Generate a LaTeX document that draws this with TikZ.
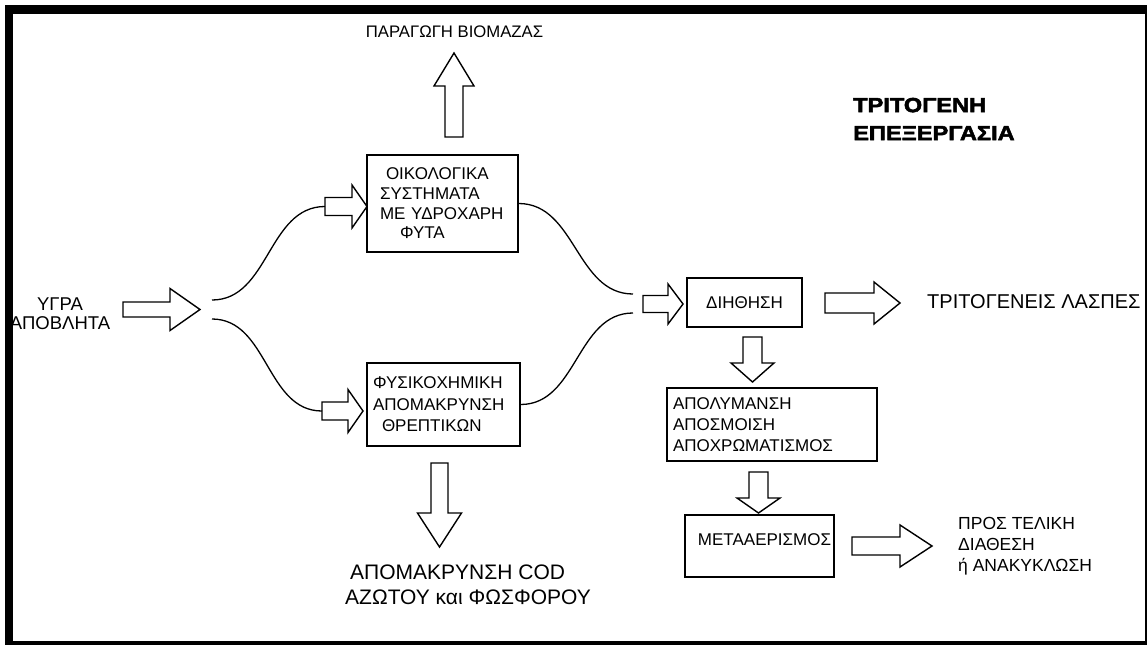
\documentclass[tikz,border=0pt]{standalone}
\usepackage{fontspec}
\setmainfont{Liberation Sans}
\newfontfamily\titlefont[FakeStretch=1.15, FakeBold=2.5]{Liberation Sans Bold}

\tikzset{
  box/.style={draw, line width=1.3pt, inner sep=0pt},
  blockarrow/.style={draw, line width=1.4pt, line join=miter, fill=white},
  flow/.style={line width=1.3pt},
  lbl/.style={inner sep=0pt, font=\fontsize{17}{20}\selectfont},
}

% horizontal hollow arrow: tail x, head x, tip x, y, shaft half, head half
\newcommand{\hblock}[6]{%
  \draw[blockarrow] (#1,#4-#5) -- (#2,#4-#5) -- (#2,#4-#6) -- (#3,#4)
    -- (#2,#4+#6) -- (#2,#4+#5) -- (#1,#4+#5) -- cycle;}
% vertical hollow arrow: x, tail y, head y, tip y, shaft half, head half
\newcommand{\vblock}[6]{%
  \draw[blockarrow] (#1-#5,#2) -- (#1-#5,#3) -- (#1-#6,#3) -- (#1,#4)
    -- (#1+#6,#3) -- (#1+#5,#3) -- (#1+#5,#2) -- cycle;}

\begin{document}
\begin{tikzpicture}[x=1pt, y=-1pt]
    \fill[white] (0,0) rectangle (1148,645);
    \useasboundingbox (0,0) rectangle (1148,645);
    % frame
    \draw[line width=9pt] (5,9.5) -- (1147,9.5);
    \draw[line width=8pt] (9,5) -- (9,645);
    \draw[line width=4pt] (5,642.5) -- (1147,642.5);
    \draw[line width=2pt] (1146,9) -- (1146,643);

    % boxes
    \node[box, minimum width=151pt, minimum height=97pt, text width=133pt, align=left,
          font=\fontsize{17}{19.7}\selectfont] (eco) at (442.5,203.5)
          {\hspace*{10pt}ΟΙΚΟΛΟΓΙΚΑ\\\hspace*{4pt}ΣΥΣΤΗΜΑΤΑ\\\hspace*{4pt}ΜΕ ΥΔΡΟΧΑΡΗ\\\hspace*{24pt}ΦΥΤΑ};
    \node[box, minimum width=153pt, minimum height=83pt, text width=141pt, align=left,
          font=\fontsize{17}{21.5}\selectfont] (phys) at (443.5,404.5)
          {ΦΥΣΙΚΟΧΗΜΙΚΗ\\ΑΠΟΜΑΚΡΥΝΣΗ\\\hspace*{9pt}ΘΡΕΠΤΙΚΩΝ};
    \node[box, minimum width=115pt, minimum height=49pt,
          font=\fontsize{17}{20}\selectfont] (filt) at (744.5,302.5) {ΔΙΗΘΗΣΗ};
    \node[box, minimum width=210pt, minimum height=73pt, text width=198pt, align=left,
          font=\fontsize{17}{21}\selectfont] (disinf) at (772,424.5)
          {ΑΠΟΛΥΜΑΝΣΗ\\ΑΠΟΣΜΟΙΣΗ\\ΑΠΟΧΡΩΜΑΤΙΣΜΟΣ};
    \node[box, minimum width=149pt, minimum height=62pt, text depth=12pt,
          font=\fontsize{17}{20}\selectfont] (post) at (759.5,546)
          {\hspace*{10pt}ΜΕΤΑΑΕΡΙΣΜΟΣ};

    % labels
    \node[lbl, font=\fontsize{16.7}{20}\selectfont] (biomass) at (454.5,32) {ΠΑΡΑΓΩΓΗ ΒΙΟΜΑΖΑΣ};
    \node[lbl, anchor=west, align=left, font=\fontsize{20.5}{28}\titlefont] (title)
          at (853,119) {ΤΡΙΤΟΓΕΝΗ\\ΕΠΕΞΕΡΓΑΣΙΑ};
    \node[lbl, align=center, font=\fontsize{18.5}{19}\selectfont] (waste) at (60,314) {ΥΓΡΑ\\ΑΠΟΒΛΗΤΑ};
    \node[lbl, anchor=west, font=\fontsize{20}{24}\selectfont] (sludge) at (927,302) {ΤΡΙΤΟΓΕΝΕΙΣ ΛΑΣΠΕΣ};
    \node[lbl, anchor=west, align=left, font=\fontsize{21}{25}\selectfont] (removal) at (345,584.5)
          {\hspace*{5pt}ΑΠΟΜΑΚΡΥΝΣΗ COD\\ΑΖΩΤΟΥ και ΦΩΣΦΟΡΟΥ};
    \node[lbl, anchor=west, align=left, font=\fontsize{17.5}{21}\selectfont] (final) at (958,546)
          {ΠΡΟΣ ΤΕΛΙΚΗ\\ΔΙΑΘΕΣΗ\\ή ΑΝΑΚΥΚΛΩΣΗ};

    % hollow arrows
    \hblock{123}{170}{200}{309.5}{7.5}{21}
    \hblock{325}{352}{367}{206.5}{9}{21.5}
    \hblock{322}{348}{363}{411}{9}{21.5}
    \hblock{643}{668}{683}{304}{8.5}{20}
    \hblock{825}{874}{900}{303}{10}{21}
    \hblock{852}{900}{932}{546}{9}{21}
    \vblock{454}{137}{86}{53}{9}{20}
    \vblock{439.5}{463}{513}{547}{8.5}{22}
    \vblock{752.5}{337}{363}{382}{9.5}{21.5}
    \vblock{758.5}{472}{498}{513}{9.5}{21.5}

    % split and merge curves
    \coordinate (up) at (212,300);
    \coordinate (lo) at (212,319);
    \coordinate (ecoin) at (325,206.5);
    \coordinate (physin) at (322,411);
    \coordinate (filtup) at (633,294);
    \coordinate (filtlo) at (633,313);
    \draw[flow] (up) to[out=0,in=180] (ecoin);
    \draw[flow] (lo) to[out=0,in=180] (physin);
    \draw[flow] (eco.east) to[out=0,in=180] (filtup);
    \draw[flow] (phys.east) to[out=0,in=180] (filtlo);
\end{tikzpicture}
\end{document}
